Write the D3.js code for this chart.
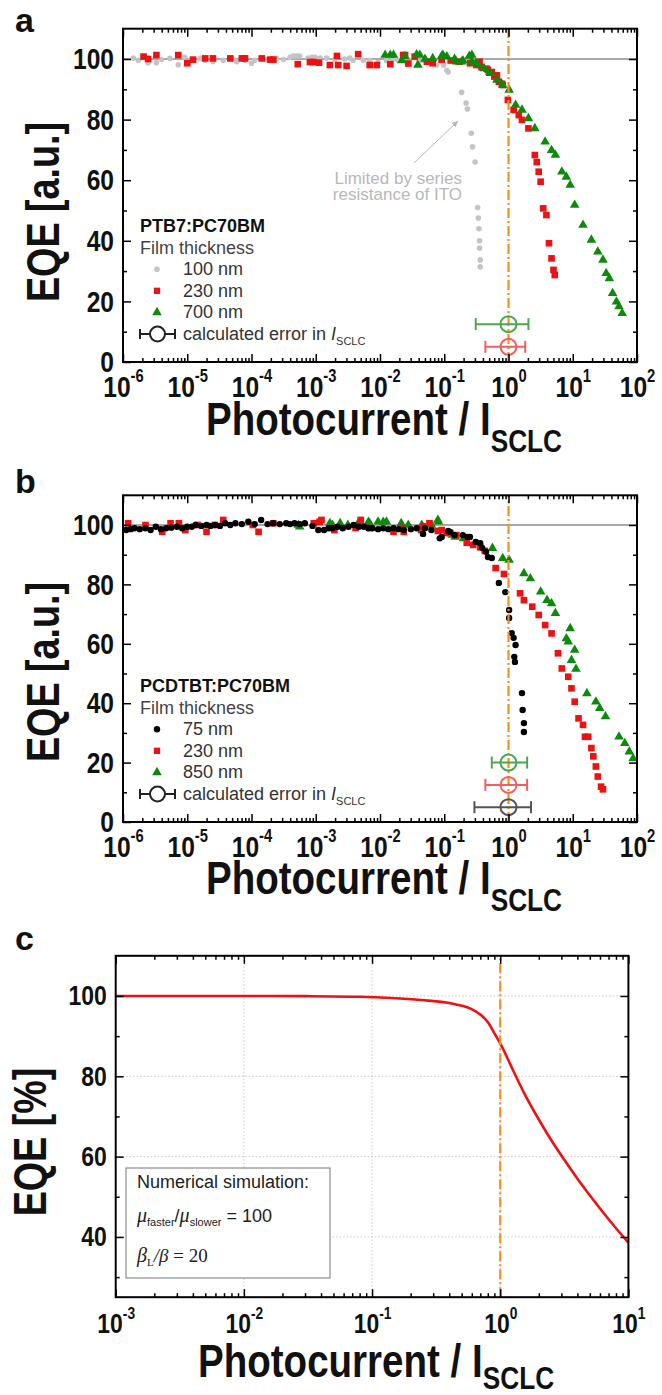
<!DOCTYPE html>
<html>
<head>
<meta charset="utf-8">
<script src="https://cdn.jsdelivr.net/npm/d3@7"></script>
<style>
  body { margin: 0; background: #fff; }
  .axis .tick line { stroke: #000; stroke-width: 1.5; }
</style>
</head>
<body>
<svg id="chart"></svg>
<script>
// ---- data: [log10(photocurrent / I_SCLC), EQE] ----

// panel a, PTB7:PC70BM
const a100nm = [[-5.84,100.3],[-5.76,99.6],[-5.61,98.8],[-5.48,98.8],[-5.40,99.8],[-5.27,100.2],[-5.14,98.1],[-5.04,100.6],[-4.95,99.5],[-4.80,100.2],[-4.72,99.6],[-4.60,99.2],[-4.44,99.6],[-4.30,100],[-4.23,99.1],[-4.10,99.6],[-4.00,98.6],[-3.95,99.6],[-3.80,100],[-3.61,100.2],[-3.50,99.8],[-3.40,100.6],[-3.35,101],[-3.30,101],[-3.25,101],[-3.12,100.3],[-3.06,100.6],[-3.01,100.6],[-2.93,100.3],[-2.83,100.3],[-2.70,99.8],[-2.55,100],[-2.47,100.3],[-2.42,99.6],[-2.26,99.6],[-2.16,99.6],[-2.03,98.8],[-1.90,99.5],[-1.80,100],[-1.72,99.6],[-1.62,99.6],[-1.55,99.6],[-1.40,99.2],[-1.33,99.6],[-1.22,99.1],[-1.12,98],[-1.06,99.1],[-1.01,98],[-0.96,96.3],[-0.94,95.7],[-0.81,98.8],
  [-0.73,89],[-0.66,85.5],[-0.64,83.5],[-0.58,75.5],[-0.56,71],[-0.52,66],[-0.48,51],[-0.47,47.5],[-0.46,44],[-0.45,40],[-0.45,37.6],[-0.44,33.7],[-0.44,31.4]];
const a230nm = [[-5.68,100.8],[-5.61,100],[-5.48,101.3],[-5.14,101.3],[-5.00,98.6],[-4.91,99.8],[-4.72,100.2],[-4.60,100.2],[-4.33,100.2],[-4.15,100.2],[-4.10,100.2],[-3.84,100.2],[-3.71,99.8],[-3.66,99.8],[-3.28,98.3],[-3.09,99],[-3.04,99],[-2.95,98.8],[-2.78,98],[-2.67,101],[-2.65,98],[-2.52,97.7],[-2.34,101.6],[-2.16,98],[-2.05,98],[-1.84,98.3],[-1.64,101.3],[-1.61,101.3],[-1.56,98.5],[-1.46,100.8],[-1.27,99.1],[-1.18,98.6],[-1.04,99.8],[-0.90,99.5],[-0.76,99.1],[-0.60,98.6],[-0.50,98],[-0.45,99.1],[-0.42,97.3],[-0.34,96.8],[-0.32,96.4],[-0.26,95.7],[-0.22,94.2],[-0.18,94.6],[-0.15,92.5],[-0.10,91.8],[-0.09,91.4],[-0.01,86.5],[0.08,83.2],[0.16,81.5],[0.21,79.9],[0.31,77.1],[0.41,68.3],[0.44,66],[0.47,62.8],[0.50,59.5],[0.54,50.7],[0.59,48.5],[0.63,39.2],[0.67,34.2],[0.70,30.4],[0.72,28.7]];
const a700nm = [[-1.92,101.3],[-1.84,101.3],[-1.79,101.3],[-1.66,99.5],[-1.61,100.8],[-1.43,101.5],[-1.41,98],[-1.38,101.3],[-1.30,100],[-1.18,100.2],[-1.04,101],[-1.02,101.3],[-0.96,100.8],[-0.84,100],[-0.81,99.1],[-0.73,99.1],[-0.71,99.5],[-0.61,101],[-0.57,101.3],[-0.57,99.1],[-0.51,98.6],[-0.47,98],[-0.38,96.9],[-0.29,95.7],[-0.28,95.3],[-0.18,93.1],[-0.09,91.4],[0.01,89.8],[0.11,84.8],[0.21,83.2],[0.31,80.4],[0.41,77.1],[0.57,72.7],[0.67,69.9],[0.73,68.3],[0.83,62.8],[0.90,61.1],[0.96,58.4],[1.03,51.8],[1.16,45.2],[1.29,40.3],[1.39,36.4],[1.47,33.7],[1.52,29.3],[1.57,27.6],[1.62,22.7],[1.68,19.9],[1.72,18.3],[1.77,16.1]];
// error in I_SCLC: [EQE, log10 low, log10 high]
const aErrors = [[12.5,-0.51,0.31],[5,-0.36,0.26]];

// panel b, PCDTBT:PC70BM
const b75nm = [[-5.95,98.3],[-5.88,98.6],[-5.82,98.9],[-5.74,98.6],[-5.65,98.9],[-5.57,98.3],[-5.49,99.4],[-5.41,98.6],[-5.33,98.9],[-5.25,99.1],[-5.16,99.4],[-5.08,98.9],[-5.00,99.4],[-4.93,99.4],[-4.87,100],[-4.78,99.7],[-4.70,100],[-4.64,99.7],[-4.57,100],[-4.49,99.7],[-4.41,100.6],[-4.33,100],[-4.25,100.6],[-4.15,100.3],[-4.05,101.1],[-3.95,100.3],[-3.85,101.7],[-3.75,100.3],[-3.66,100.6],[-3.56,100.3],[-3.46,100.6],[-3.40,100.3],[-3.33,100.6],[-3.25,100.3],[-3.17,100.6],[-3.05,99.7],[-2.96,98.3],[-2.87,98.3],[-2.80,98.9],[-2.74,98.9],[-2.66,99.4],[-2.58,98.9],[-2.49,99.4],[-2.41,100],[-2.33,99.4],[-2.25,99.4],[-2.18,98.9],[-2.12,98.9],[-2.03,98.6],[-1.95,98.9],[-1.87,98.6],[-1.79,98.9],[-1.71,98.6],[-1.63,98.3],[-1.52,98.6],[-1.43,98.9],[-1.33,97],[-1.30,98.9],[-1.20,98.3],[-1.07,95.5],[-1.04,96],[-0.94,98],[-0.91,97.7],[-0.84,96.6],[-0.71,96.6],[-0.64,96],[-0.60,96],[-0.51,94.3],[-0.44,93.9],[-0.41,92.3],[-0.35,91],[-0.32,89.2],[-0.26,88.9],[-0.15,80.5],[-0.05,77.4],[0.01,71.4],[0.01,68.7],[0.05,63.6],[0.08,62],[0.11,59.6],[0.09,55.6],[0.10,53.9],[0.21,43.4],[0.22,37.7],[0.24,33.3],[0.24,30.3]];
const b230nm = [[-5.92,100.6],[-5.65,100],[-5.39,97.7],[-5.26,100.6],[-5.13,100.6],[-5.03,98.3],[-4.84,100],[-4.70,97.7],[-4.57,100],[-4.44,101.7],[-3.98,100],[-3.89,97.7],[-3.66,100.6],[-3.03,100.6],[-2.94,101.1],[-2.91,101.7],[-2.73,99],[-2.71,98.3],[-2.38,99],[-2.30,101.7],[-2.16,99],[-1.79,97.7],[-1.67,99],[-1.63,97.7],[-1.36,98.3],[-1.33,99.6],[-1.23,100.6],[-1.10,98],[-1.04,98.3],[-0.96,97.3],[-0.91,97.3],[-0.81,96.6],[-0.65,94],[-0.55,93.3],[-0.44,92.5],[-0.37,91.3],[-0.20,85.5],[-0.07,83.5],[0.18,77],[0.24,74.7],[0.37,72.5],[0.47,69.7],[0.57,66.3],[0.67,63.5],[0.77,56.8],[0.83,51.7],[0.93,48.9],[0.98,45],[1.03,40.5],[1.09,34.9],[1.16,32.7],[1.19,28.7],[1.24,28.7],[1.29,24.9],[1.32,22.1],[1.36,18.7],[1.39,15.3],[1.44,11.9],[1.47,11]];
const b850nm = [[-3.27,100],[-3.25,99.4],[-2.78,100.6],[-2.74,100],[-2.62,100.6],[-2.50,100],[-2.34,100.6],[-2.31,101],[-2.18,101],[-2.16,100.6],[-2.03,101.1],[-1.95,101],[-1.90,101.1],[-1.67,100.6],[-1.56,100],[-1.35,100],[-1.20,100],[-1.10,101.7],[-1.09,101.1],[-0.87,96.6],[-0.83,96],[-0.70,95.5],[-0.25,92.2],[-0.09,88.8],[0.01,88.2],[0.24,83.7],[0.34,82],[0.50,77.5],[0.60,74.7],[0.67,73.6],[0.73,70.3],[0.96,65.2],[0.90,61.8],[0.93,60.7],[1.03,57.9],[0.98,54.5],[1.05,51.5],[1.22,43.3],[1.36,40.5],[1.42,38.3],[1.51,35.5],[1.72,28.7],[1.81,26.5],[1.88,23.7],[1.94,21.4]];
const bErrors = [[20,-0.26,0.29],[12.5,-0.36,0.29],[5,-0.53,0.35]];

// panel c, numerical simulation
const cCurve = [[-3,100],[-2.5,100],[-2,100],[-1.5,99.95],[-1.1,99.8],[-0.85,99.5],[-0.62,99],[-0.36,98],[-0.21,96.5],[-0.09,93.2],[-0.045,90.7],[0,88.2],[0.1,81.5],[0.2,75],[0.3,69.3],[0.4,64],[0.5,59.2],[0.6,54.6],[0.7,50.3],[0.8,46.2],[0.9,42.3],[1,38.6]];

// ticks
const xExpAB = [-6,-5,-4,-3,-2,-1,0,1,2];
const yTicksAB = [0,20,40,60,80,100];
const yMinorAB = [10,30,50,70,90];
const xExpC = [-3,-2,-1,0,1];
const yTicksC = [40,60,80,100];
const yMinorC = [30,50,70,90];

const ARIAL = "'Liberation Sans',Arial,sans-serif";
const TIMES = "'Liberation Serif','Times New Roman',serif";
const SX = 0.82; // horizontal squeeze, mimics Arial Narrow
const RED = "#ee1111", GREEN = "#0c8a0c", GRAY = "#c4c4c4", ORANGE = "#f5901e";

const svg = d3.select("#chart").attr("width", 662).attr("height", 1395);

svg.append("defs").append("marker")
    .attr("id", "arrow").attr("viewBox", "0 0 10 10")
    .attr("refX", 9).attr("refY", 5)
    .attr("markerWidth", 7).attr("markerHeight", 7)
    .attr("orient", "auto")
    .append("path").attr("d", "M0,1 L10,5 L0,9 Z").attr("fill", "#b8b8b8");

const toPts = arr => arr.map(d => ({ x: Math.pow(10, d[0]), y: d[1] }));

const narrow = (sel, size) => sel.attr("fill", "#111")
    .style("font-family", ARIAL).style("font-weight", "bold").style("font-size", size + "px");

// frame, inward ticks on all four sides, labels on left and bottom
function drawAxes(x, y, o) {
    const [x0, x1] = x.range(), [y0, y1] = y.range();
    const majors = o.xExp.map(e => Math.pow(10, e));
    const minors = [];
    for (let e = o.xExp[0]; e < o.xExp[o.xExp.length - 1]; e++)
        for (let k = 2; k <= 9; k++) minors.push(k * Math.pow(10, e));

    const add = (axis, tr, keepText) => svg.append("g").attr("class", "axis")
        .attr("transform", tr).call(axis)
        .call(g => g.select(".domain").remove())
        .call(g => { if (!keepText) g.selectAll("text").remove(); });

    const bottom = add(d3.axisBottom(x).tickValues(majors).tickSize(-8).tickFormat(() => "10"), `translate(0,${y0})`, true);
    add(d3.axisBottom(x).tickValues(minors).tickSize(-4), `translate(0,${y0})`);
    add(d3.axisTop(x).tickValues(majors).tickSize(-8), `translate(0,${y1})`);
    add(d3.axisTop(x).tickValues(minors).tickSize(-4), `translate(0,${y1})`);
    const left = add(d3.axisLeft(y).tickValues(o.yTicks).tickSize(-8), `translate(${x0},0)`, true);
    add(d3.axisLeft(y).tickValues(o.yMinor).tickSize(-4), `translate(${x0},0)`);
    add(d3.axisRight(y).tickValues(o.yTicks).tickSize(-8), `translate(${x1},0)`);
    add(d3.axisRight(y).tickValues(o.yMinor).tickSize(-4), `translate(${x1},0)`);

    bottom.selectAll(".tick text")
        .call(narrow, o.tickSize)
        .attr("y", o.xLabelY).attr("dy", null)
        .attr("transform", `scale(${SX},1)`)
        .append("tspan").attr("dy", -o.tickSize * 0.5)
        .style("font-size", (o.tickSize * 0.6) + "px")
        .text(d => Math.round(Math.log10(d)));

    left.selectAll(".tick text")
        .call(narrow, o.tickSize)
        .attr("x", -9 / SX)
        .attr("transform", `scale(${SX},1)`);

    svg.append("rect")
        .attr("x", x0).attr("y", y1).attr("width", x1 - x0).attr("height", y0 - y1)
        .attr("fill", "none").attr("stroke", "#000").attr("stroke-width", 2);

    // axis titles
    const t = svg.append("text")
        .attr("transform", `translate(${(x0 + x1) / 2 + 4},${o.titleY}) scale(${SX},1)`)
        .attr("text-anchor", "middle")
        .call(narrow, 47);
    t.append("tspan").text("Photocurrent / I");
    t.append("tspan").attr("dy", o.subDrop).style("font-size", "32px").text("SCLC");

    svg.append("text")
        .attr("transform", `translate(${o.yTitleX},${o.yTitleY}) rotate(-90) scale(${SX},1)`)
        .attr("text-anchor", "middle")
        .call(narrow, 46)
        .text(o.yTitle);

    svg.append("text").attr("x", 15).attr("y", o.letterY)
        .attr("fill", "#111")
        .style("font-family", ARIAL).style("font-weight", "bold").style("font-size", "34px")
        .text(o.letter);
}

function drawCircles(x, y, data, r, color) {
    svg.append("g").selectAll("circle").data(toPts(data)).join("circle")
        .attr("cx", d => x(d.x)).attr("cy", d => y(d.y)).attr("r", r).attr("fill", color);
}

function drawSymbols(x, y, data, type, size, color) {
    svg.append("g").selectAll("path").data(toPts(data)).join("path")
        .attr("transform", d => `translate(${x(d.x)},${y(d.y)})`)
        .attr("d", d3.symbol().type(type).size(size)).attr("fill", color);
}

function drawErrors(x, y, errs, colors) {
    errs.forEach((e, i) => {
        const g = svg.append("g").attr("stroke", colors[i]).attr("stroke-width", 2).attr("fill", "none");
        const yy = y(e[0]), xl = x(Math.pow(10, e[1])), xh = x(Math.pow(10, e[2]));
        g.append("line").attr("x1", xl).attr("x2", xh).attr("y1", yy).attr("y2", yy);
        g.append("line").attr("x1", xl).attr("x2", xl).attr("y1", yy - 6).attr("y2", yy + 6);
        g.append("line").attr("x1", xh).attr("x2", xh).attr("y1", yy - 6).attr("y2", yy + 6);
        g.append("circle").attr("cx", x(1)).attr("cy", yy).attr("r", 8);
    });
}

function drawOrange(x, y) {
    svg.append("line")
        .attr("x1", x(1)).attr("x2", x(1)).attr("y1", y.range()[0]).attr("y2", y.range()[1])
        .attr("stroke", ORANGE).attr("stroke-width", 2.2).attr("stroke-dasharray", "10,3,2,3");
}

function drawLegend(title, rows, top) {
    const lx = 140, step = 21.6;
    const txt = (yy, s) => svg.append("text").attr("x", 183).attr("y", yy)
        .attr("fill", "#333").style("font-family", ARIAL).style("font-size", "18px").text(s);
    svg.append("text").attr("x", lx).attr("y", top).attr("fill", "#111")
        .style("font-family", ARIAL).style("font-weight", "bold").style("font-size", "18px").text(title);
    svg.append("text").attr("x", lx).attr("y", top + step).attr("fill", "#444")
        .style("font-family", ARIAL).style("font-size", "18px").text("Film thickness");
    rows.forEach((r, i) => {
        const yy = top + step * (i + 2), cy = yy - 6;
        if (r.shape === "circle")
            svg.append("circle").attr("cx", 157).attr("cy", cy).attr("r", r.r).attr("fill", r.color);
        else
            svg.append("path").attr("transform", `translate(157,${cy})`)
                .attr("d", d3.symbol().type(r.shape).size(r.size)).attr("fill", r.color);
        txt(yy, r.label);
    });
    const yy = top + step * (rows.length + 2), cy = yy - 6;
    const g = svg.append("g").attr("stroke", "#222").attr("stroke-width", 2).attr("fill", "none");
    g.append("line").attr("x1", 140).attr("x2", 175).attr("y1", cy).attr("y2", cy);
    g.append("line").attr("x1", 140).attr("x2", 140).attr("y1", cy - 5).attr("y2", cy + 5);
    g.append("line").attr("x1", 175).attr("x2", 175).attr("y1", cy - 5).attr("y2", cy + 5);
    g.append("circle").attr("cx", 157.5).attr("cy", cy).attr("r", 7.5).attr("fill", "#fff");
    const t = txt(yy, "calculated error in ");
    t.append("tspan").style("font-style", "italic").text("I");
    t.append("tspan").attr("dy", 5).style("font-size", "11px").text("SCLC");
}

// ---------------- panel a ----------------
{
    const x = d3.scaleLog().domain([1e-6, 1e2]).range([123, 637]);
    const y = d3.scaleLinear().domain([0, 110]).range([362, 28.7]);

    svg.append("line").attr("x1", 123).attr("x2", 637).attr("y1", y(100)).attr("y2", y(100))
        .attr("stroke", "#555").attr("stroke-width", 1.2);

    drawCircles(x, y, a100nm, 2.8, GRAY);
    drawSymbols(x, y, a230nm, d3.symbolSquare, 44, RED);
    drawSymbols(x, y, a700nm, d3.symbolTriangle, 40, GREEN);
    drawOrange(x, y);
    drawErrors(x, y, aErrors, ["#4da64d", "#f06060"]);

    drawAxes(x, y, { xExp: xExpAB, yTicks: yTicksAB, yMinor: yMinorAB, tickSize: 30, xLabelY: 35,
        titleY: 435, subDrop: 17, yTitle: "EQE [a.u.]", yTitleX: 59, yTitleY: 212, letter: "a", letterY: 32 });

    // annotation
    const note = svg.append("text").attr("text-anchor", "end").attr("fill", "#b8b8b8")
        .style("font-family", ARIAL).style("font-size", "17px");
    note.append("tspan").attr("x", 462).attr("y", 184).text("Limited by series");
    note.append("tspan").attr("x", 462).attr("y", 200).text("resistance of ITO");
    svg.append("line").attr("x1", 414).attr("y1", 163).attr("x2", 458).attr("y2", 121)
        .attr("stroke", "#b8b8b8").attr("stroke-width", 1).attr("marker-end", "url(#arrow)");

    drawLegend("PTB7:PC70BM", [
        { shape: "circle", r: 2.8, color: GRAY, label: "100 nm" },
        { shape: d3.symbolSquare, size: 40, color: RED, label: "230 nm" },
        { shape: d3.symbolTriangle, size: 40, color: GREEN, label: "700 nm" }
    ], 232);
}

// ---------------- panel b ----------------
{
    const x = d3.scaleLog().domain([1e-6, 1e2]).range([123, 637]);
    const y = d3.scaleLinear().domain([0, 110]).range([822, 495.3]);

    svg.append("line").attr("x1", 123).attr("x2", 637).attr("y1", y(100)).attr("y2", y(100))
        .attr("stroke", "#555").attr("stroke-width", 1.2);

    drawSymbols(x, y, b850nm, d3.symbolTriangle, 40, GREEN);
    drawSymbols(x, y, b230nm, d3.symbolSquare, 44, RED);
    drawCircles(x, y, b75nm, 3.2, "#000");
    drawOrange(x, y);
    drawErrors(x, y, bErrors, ["#4da64d", "#f06060", "#555"]);

    drawAxes(x, y, { xExp: xExpAB, yTicks: yTicksAB, yMinor: yMinorAB, tickSize: 30, xLabelY: 35,
        titleY: 894, subDrop: 17, yTitle: "EQE [a.u.]", yTitleX: 59, yTitleY: 672, letter: "b", letterY: 493 });

    drawLegend("PCDTBT:PC70BM", [
        { shape: "circle", r: 3.2, color: "#000", label: "75 nm" },
        { shape: d3.symbolSquare, size: 40, color: RED, label: "230 nm" },
        { shape: d3.symbolTriangle, size: 40, color: GREEN, label: "850 nm" }
    ], 692);
}

// ---------------- panel c ----------------
{
    const x = d3.scaleLog().domain([1e-3, 1e1]).range([115.7, 628.4]);
    const y = d3.scaleLinear().domain([25, 110]).range([1297.2, 955.8]);

    // dotted grid
    const grid = svg.append("g").attr("stroke", "#c8c8c8").attr("stroke-width", 1).attr("stroke-dasharray", "1.5,2");
    yTicksC.forEach(v => grid.append("line").attr("x1", 115.7).attr("x2", 628.4).attr("y1", y(v)).attr("y2", y(v)));
    xExpC.slice(1, -1).forEach(e => grid.append("line")
        .attr("x1", x(Math.pow(10, e))).attr("x2", x(Math.pow(10, e))).attr("y1", y(25)).attr("y2", y(110)));

    const line = d3.line().x(d => x(d.x)).y(d => y(d.y)).curve(d3.curveMonotoneX);
    svg.append("path").datum(toPts(cCurve)).attr("d", line)
        .attr("fill", "none").attr("stroke", RED).attr("stroke-width", 2.6);

    drawOrange(x, y);

    drawAxes(x, y, { xExp: xExpC, yTicks: yTicksC, yMinor: yMinorC, tickSize: 28, xLabelY: 36,
        titleY: 1377, subDrop: 12, yTitle: "EQE [%]", yTitleX: 46, yTitleY: 1142, letter: "c", letterY: 950 });

    // simulation box
    svg.append("rect").attr("x", 126).attr("y", 1168).attr("width", 204).attr("height", 110)
        .attr("fill", "#fff").attr("stroke", "#777").attr("stroke-width", 1);
    svg.append("text").attr("x", 137).attr("y", 1188).attr("fill", "#222")
        .style("font-family", ARIAL).style("font-size", "18px").text("Numerical simulation:");
    const m = svg.append("text").attr("x", 137).attr("y", 1222).attr("fill", "#222")
        .style("font-family", ARIAL).style("font-size", "18px");
    m.append("tspan").style("font-family", TIMES).style("font-style", "italic").style("font-size", "20px").text("μ");
    m.append("tspan").attr("dy", 4).style("font-size", "11px").text("faster");
    m.append("tspan").attr("dy", -4).text("/");
    m.append("tspan").style("font-family", TIMES).style("font-style", "italic").style("font-size", "20px").text("μ");
    m.append("tspan").attr("dy", 4).style("font-size", "11px").text("slower");
    m.append("tspan").attr("dy", -4).text(" = 100");
    const b = svg.append("text").attr("x", 137).attr("y", 1262).attr("fill", "#222")
        .style("font-family", TIMES).style("font-size", "19px");
    b.append("tspan").style("font-style", "italic").style("font-size", "20px").text("β");
    b.append("tspan").attr("dy", 4).style("font-size", "11px").text("L");
    b.append("tspan").attr("dy", -4).style("font-style", "italic").text("/β");
    b.append("tspan").text("  =  20");
}
</script>
</body>
</html>
